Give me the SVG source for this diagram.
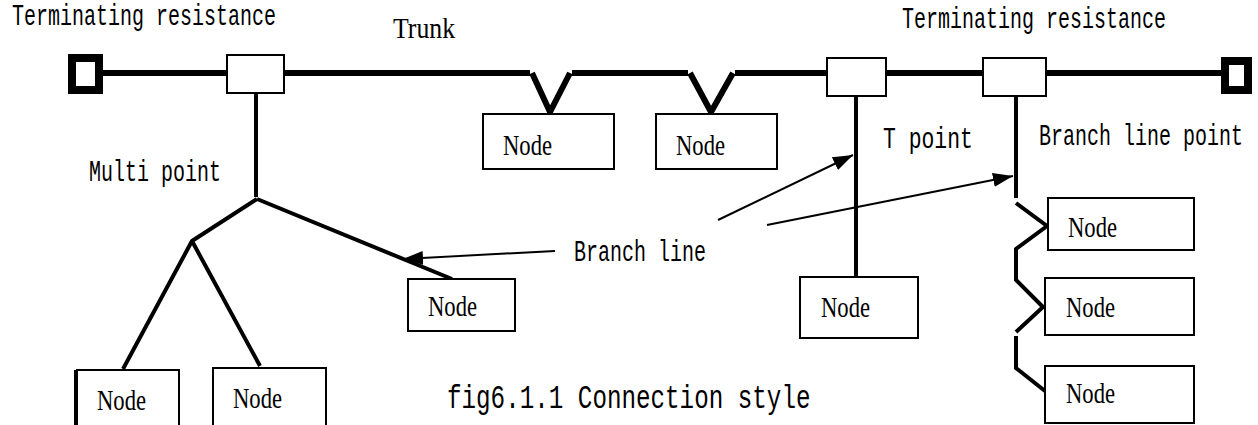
<svg xmlns="http://www.w3.org/2000/svg" width="1258" height="425" viewBox="0 0 1258 425">
<style>
.box{fill:#fff;stroke:#000;stroke-width:2}
.term{fill:#fff;stroke:#000;stroke-width:8}
.trunk{fill:none;stroke:#000;stroke-width:6;stroke-linejoin:miter}
.br{fill:none;stroke:#000;stroke-width:4}
.arr{fill:none;stroke:#000;stroke-width:2}
.lbl{font-family:"Liberation Mono",monospace;font-size:20px;fill:#000}
.cap{font-family:"Liberation Mono",monospace;font-size:24px;fill:#000}
.nd{font-family:"Liberation Serif",serif;font-size:30px;fill:#000}
</style>
<defs>
<marker id="ah" markerUnits="userSpaceOnUse" markerWidth="22" markerHeight="16" refX="20" refY="7" orient="auto">
<path d="M0,0 L20,7 L0,14 z" fill="#000"/>
</marker>
</defs>
<g id="connectors">
<path class="trunk" d="M103,73 H227 M284,73 H530 M532,73 L550,112 L570,73 M572,73 H688 M690,73 L711,112 L733,73 M735,73 H827 M886,73 H983 M1046,73 H1221"/>
<path class="br" d="M256,93 V197 M856,96 V277 M1016,96 V198"/>
<path class="br" d="M257,199 L192,241 L123,369 M192,241 L260,366 M257,199 L452,279"/>
<path class="br" d="M1016,203 L1047,226 L1016,249 V280 L1043,307 L1016,332 M1016,336 V368 L1045,391"/>
<path class="arr" d="M718,220 L853,155" marker-end="url(#ah)"/>
<path class="arr" d="M767,225 L1013,176" marker-end="url(#ah)"/>
<path class="arr" d="M555,251 L403,259" marker-end="url(#ah)"/>
</g>
<g id="term-left"><rect class="term" x="72" y="58" width="27" height="32"/></g>
<g id="term-right"><rect class="term" x="1225" y="61" width="23" height="29"/></g>
<g id="junction-1"><rect class="box" x="227" y="55" width="57" height="38"/></g>
<g id="junction-2"><rect class="box" x="827" y="58" width="59" height="38"/></g>
<g id="junction-3"><rect class="box" x="983" y="58" width="63" height="38"/></g>
<g id="node-trunk-1"><rect class="box" x="483" y="114" width="131" height="55"/><text class="nd" x="503" y="155" textLength="49" lengthAdjust="spacingAndGlyphs">Node</text></g>
<g id="node-trunk-2"><rect class="box" x="656" y="114" width="121" height="55"/><text class="nd" x="676" y="155" textLength="49" lengthAdjust="spacingAndGlyphs">Node</text></g>
<g id="node-t"><rect class="box" x="800" y="277" width="118" height="61"/><text class="nd" x="821" y="317" textLength="49" lengthAdjust="spacingAndGlyphs">Node</text></g>
<g id="node-mp-right"><rect class="box" x="408" y="279" width="107" height="52"/><text class="nd" x="428" y="316" textLength="49" lengthAdjust="spacingAndGlyphs">Node</text></g>
<g id="node-mp-left"><rect class="box" x="77" y="370" width="102" height="70"/><line x1="75" y1="370" x2="75" y2="425" stroke="#000" stroke-width="2"/><text class="nd" x="97" y="410" textLength="49" lengthAdjust="spacingAndGlyphs">Node</text></g>
<g id="node-mp-mid"><rect class="box" x="213" y="368" width="113" height="70"/><text class="nd" x="233" y="408" textLength="49" lengthAdjust="spacingAndGlyphs">Node</text></g>
<g id="node-br-1"><rect class="box" x="1048" y="198" width="146" height="52"/><text class="nd" x="1068" y="237" textLength="49" lengthAdjust="spacingAndGlyphs">Node</text></g>
<g id="node-br-2"><rect class="box" x="1045" y="278" width="149" height="57"/><text class="nd" x="1066" y="317" textLength="49" lengthAdjust="spacingAndGlyphs">Node</text></g>
<g id="node-br-3"><rect class="box" x="1045" y="366" width="149" height="57"/><text class="nd" x="1066" y="403" textLength="49" lengthAdjust="spacingAndGlyphs">Node</text></g>
<g id="labels">
<text class="lbl" transform="translate(12,25) scale(1,1.5)">Terminating resistance</text>
<text class="lbl" transform="translate(902,28) scale(1,1.5)">Terminating resistance</text>
<text class="nd" x="393" y="38" textLength="62" lengthAdjust="spacingAndGlyphs">Trunk</text>
<text class="lbl" transform="translate(89,181) scale(1,1.5)">Multi point</text>
<text class="lbl" transform="translate(883,148) scale(1.07,1.5)">T point</text>
<text class="lbl" transform="translate(1039,145) scale(1,1.5)">Branch line point</text>
<text class="lbl" transform="translate(574,261) scale(1,1.5)">Branch line</text>
<text class="cap" transform="translate(447,408) scale(1.01,1.4)">fig6.1.1 Connection style</text>
</g>
</svg>
